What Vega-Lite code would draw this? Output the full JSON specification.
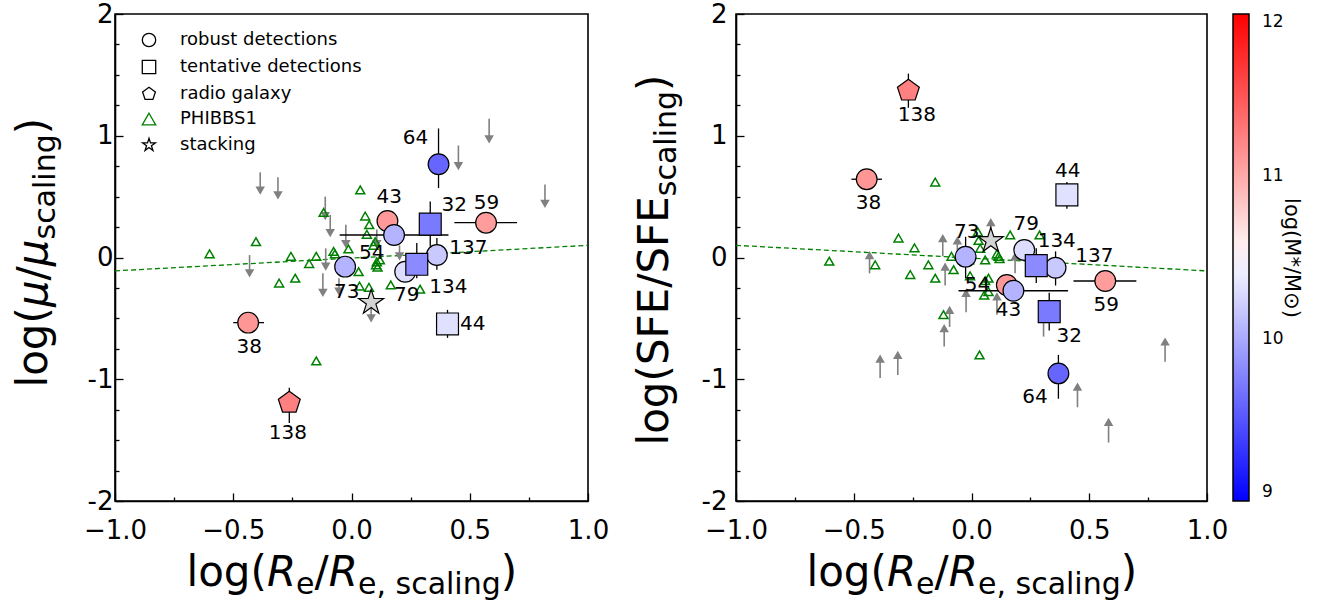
{
  "$schema": "https://vega.github.io/schema/vega-lite/v6.json",
  "background": "white",
  "padding": {"left": 11, "top": 0, "right": 5, "bottom": 2},
  "config": {
    "font": "DejaVu Sans",
    "view": {"stroke": "black", "strokeWidth": 1.6},
    "axis": {"grid": false, "domainColor": "black", "domainWidth": 1.6, "tickColor": "black", "tickWidth": 1.3, "labelColor": "black", "labelFontSize": 26, "labelFont": "DejaVu Sans", "titleFont": "DejaVu Sans", "titleColor": "black", "titleFontSize": 42, "titleFontWeight": "normal", "labelFlush": false, "labelOverlap": false},
    "text": {"font": "DejaVu Sans"}
  },
  "datasets": {
    "fitL": [{"x": -1, "y": -0.11}, {"x": 1, "y": 0.10}],
    "fitR": [{"x": -1, "y": 0.10}, {"x": 1, "y": -0.11}],
    "arrowsL": [
      {"x": -0.386, "y": 0.70, "yh": 0.55}, {"x": -0.311, "y": 0.66, "yh": 0.51}, {"x": 0.582, "y": 1.14, "yh": 0.97},
      {"x": 0.452, "y": 0.92, "yh": 0.75}, {"x": 0.818, "y": 0.60, "yh": 0.44}, {"x": -0.111, "y": 0.50, "yh": 0.34},
      {"x": -0.09, "y": 0.35, "yh": 0.20}, {"x": -0.024, "y": 0.27, "yh": 0.11}, {"x": 0.107, "y": 0.23, "yh": 0.11},
      {"x": -0.431, "y": 0.02, "yh": -0.13}, {"x": -0.109, "y": 0.075, "yh": -0.075}, {"x": -0.121, "y": -0.13, "yh": -0.29},
      {"x": -0.053, "y": -0.17, "yh": -0.28}, {"x": 0.203, "y": 0.10, "yh": 0.01}, {"x": 0.083, "y": -0.37, "yh": -0.50}
    ],
    "arrowsR": [
      {"x": -0.433, "y": -0.13, "yh": 0.02}, {"x": -0.122, "y": 0.01, "yh": 0.16}, {"x": -0.112, "y": -0.23, "yh": -0.075},
      {"x": -0.06, "y": 0.01, "yh": 0.14}, {"x": 0.082, "y": 0.14, "yh": 0.29}, {"x": 0.185, "y": -0.13, "yh": 0.01},
      {"x": -0.023, "y": -0.45, "yh": -0.29}, {"x": -0.093, "y": -0.57, "yh": -0.43}, {"x": -0.116, "y": -0.73, "yh": -0.58},
      {"x": 0.108, "y": -0.47, "yh": -0.32}, {"x": 0.306, "y": -0.65, "yh": -0.49}, {"x": -0.388, "y": -0.99, "yh": -0.83},
      {"x": -0.313, "y": -0.965, "yh": -0.80}, {"x": 0.822, "y": -0.856, "yh": -0.69}, {"x": 0.45, "y": -1.23, "yh": -1.06},
      {"x": 0.582, "y": -1.52, "yh": -1.35}
    ],
    "phibbsL": [
      {"type": "PHIBBS1", "x": 0.037, "y": 0.555}, {"type": "PHIBBS1", "x": 0.058, "y": 0.34}, {"type": "PHIBBS1", "x": 0.075, "y": 0.27},
      {"type": "PHIBBS1", "x": -0.118, "y": 0.37}, {"type": "PHIBBS1", "x": -0.404, "y": 0.13}, {"type": "PHIBBS1", "x": -0.60, "y": 0.03},
      {"type": "PHIBBS1", "x": -0.256, "y": 0.01}, {"type": "PHIBBS1", "x": -0.149, "y": 0.01}, {"type": "PHIBBS1", "x": -0.179, "y": -0.05},
      {"type": "PHIBBS1", "x": -0.076, "y": 0.05}, {"type": "PHIBBS1", "x": -0.07, "y": 0.03}, {"type": "PHIBBS1", "x": -0.013, "y": 0.07},
      {"type": "PHIBBS1", "x": 0.065, "y": 0.19}, {"type": "PHIBBS1", "x": 0.10, "y": 0.13}, {"type": "PHIBBS1", "x": 0.093, "y": 0.10},
      {"type": "PHIBBS1", "x": 0.104, "y": -0.06}, {"type": "PHIBBS1", "x": 0.107, "y": -0.035}, {"type": "PHIBBS1", "x": 0.12, "y": -0.02},
      {"type": "PHIBBS1", "x": 0.03, "y": -0.117}, {"type": "PHIBBS1", "x": -0.306, "y": -0.21}, {"type": "PHIBBS1", "x": -0.238, "y": -0.17},
      {"type": "PHIBBS1", "x": 0.034, "y": -0.235}, {"type": "PHIBBS1", "x": 0.074, "y": -0.245}, {"type": "PHIBBS1", "x": 0.166, "y": -0.225},
      {"type": "PHIBBS1", "x": 0.29, "y": -0.26}, {"type": "PHIBBS1", "x": -0.149, "y": -0.85}, {"type": "PHIBBS1", "x": 0.11, "y": -0.08}
    ],
    "phibbsR": [
      {"type": "PHIBBS1", "x": -0.154, "y": 0.62}, {"type": "PHIBBS1", "x": -0.31, "y": 0.16}, {"type": "PHIBBS1", "x": -0.242, "y": 0.08},
      {"type": "PHIBBS1", "x": -0.604, "y": -0.03}, {"type": "PHIBBS1", "x": -0.409, "y": -0.06}, {"type": "PHIBBS1", "x": -0.26, "y": -0.14},
      {"type": "PHIBBS1", "x": -0.183, "y": -0.06}, {"type": "PHIBBS1", "x": -0.154, "y": -0.17}, {"type": "PHIBBS1", "x": -0.076, "y": -0.10},
      {"type": "PHIBBS1", "x": -0.085, "y": 0.01}, {"type": "PHIBBS1", "x": 0.027, "y": 0.21}, {"type": "PHIBBS1", "x": 0.03, "y": 0.14},
      {"type": "PHIBBS1", "x": 0.164, "y": 0.185}, {"type": "PHIBBS1", "x": 0.289, "y": 0.185}, {"type": "PHIBBS1", "x": 0.058, "y": -0.02},
      {"type": "PHIBBS1", "x": 0.108, "y": 0.03}, {"type": "PHIBBS1", "x": 0.119, "y": -0.01}, {"type": "PHIBBS1", "x": 0.072, "y": -0.17},
      {"type": "PHIBBS1", "x": 0.037, "y": 0.075}, {"type": "PHIBBS1", "x": 0.115, "y": 0.01}, {"type": "PHIBBS1", "x": -0.006, "y": -0.15},
      {"type": "PHIBBS1", "x": 0.058, "y": -0.19}, {"type": "PHIBBS1", "x": 0.054, "y": -0.31}, {"type": "PHIBBS1", "x": 0.072, "y": -0.28},
      {"type": "PHIBBS1", "x": -0.119, "y": -0.47}, {"type": "PHIBBS1", "x": 0.034, "y": -0.80}, {"type": "PHIBBS1", "x": -0.01, "y": -0.02}
    ],
    "namedL": [
      {"name": "64", "type": "robust detections", "x": 0.368, "y": 0.766, "logM": 9.6, "lx": 0.271, "ly": 0.98, "ylo": 0.57, "yhi": 1.06},
      {"name": "43", "type": "robust detections", "x": 0.152, "y": 0.30, "logM": 11.1, "lx": 0.16, "ly": 0.497},
      {"name": "54", "type": "robust detections", "x": 0.18, "y": 0.185, "logM": 10.05, "lx": 0.086, "ly": 0.04, "xlo": -0.05, "xhi": 0.41},
      {"name": "32", "type": "tentative detections", "x": 0.333, "y": 0.274, "logM": 9.72, "lx": 0.434, "ly": 0.43, "ylo": 0.09, "yhi": 0.46},
      {"name": "59", "type": "robust detections", "x": 0.569, "y": 0.286, "logM": 11.08, "lx": 0.571, "ly": 0.445, "xlo": 0.435, "xhi": 0.70},
      {"name": "73", "type": "robust detections", "x": -0.027, "y": -0.075, "logM": 10.05, "lx": -0.02, "ly": -0.281},
      {"name": "79", "type": "robust detections", "x": 0.227, "y": -0.117, "logM": 10.3, "lx": 0.234, "ly": -0.308},
      {"name": "137", "type": "robust detections", "x": 0.361, "y": 0.02, "logM": 10.18, "lx": 0.494, "ly": 0.076, "ylo": -0.1, "yhi": 0.16},
      {"name": "134", "type": "tentative detections", "x": 0.276, "y": -0.056, "logM": 9.82, "lx": 0.41, "ly": -0.245, "ylo": -0.17, "yhi": 0.12},
      {"name": "44", "type": "tentative detections", "x": 0.406, "y": -0.546, "logM": 10.32, "lx": 0.513, "ly": -0.546, "ylo": -0.66, "yhi": -0.43},
      {"name": "38", "type": "robust detections", "x": -0.437, "y": -0.535, "logM": 11.12, "lx": -0.432, "ly": -0.733, "xlo": -0.50, "xhi": -0.37},
      {"name": "138", "type": "radio galaxy", "x": -0.263, "y": -1.193, "logM": 11.25, "lx": -0.269, "ly": -1.44, "ylo": -1.36, "yhi": -1.07}
    ],
    "namedR": [
      {"name": "138", "type": "radio galaxy", "x": -0.268, "y": 1.37, "logM": 11.25, "lx": -0.232, "ly": 1.171, "ylo": 1.23, "yhi": 1.51},
      {"name": "38", "type": "robust detections", "x": -0.445, "y": 0.643, "logM": 11.12, "lx": -0.437, "ly": 0.445, "xlo": -0.51, "xhi": -0.38},
      {"name": "44", "type": "tentative detections", "x": 0.405, "y": 0.514, "logM": 10.32, "lx": 0.409, "ly": 0.713, "ylo": 0.40, "yhi": 0.62},
      {"name": "73", "type": "robust detections", "x": -0.025, "y": 0.007, "logM": 10.05, "lx": -0.02, "ly": 0.207, "ylo": -0.17, "yhi": 0.17},
      {"name": "79", "type": "robust detections", "x": 0.224, "y": 0.062, "logM": 10.3, "lx": 0.232, "ly": 0.275},
      {"name": "137", "type": "robust detections", "x": 0.357, "y": -0.084, "logM": 10.18, "lx": 0.522, "ly": 0.015, "ylo": -0.23, "yhi": 0.05},
      {"name": "134", "type": "tentative detections", "x": 0.275, "y": -0.067, "logM": 9.82, "lx": 0.362, "ly": 0.138, "ylo": -0.21, "yhi": 0.075},
      {"name": "59", "type": "robust detections", "x": 0.568, "y": -0.193, "logM": 11.08, "lx": 0.572, "ly": -0.39, "xlo": 0.433, "xhi": 0.70},
      {"name": "43", "type": "robust detections", "x": 0.15, "y": -0.226, "logM": 11.1, "lx": 0.157, "ly": -0.431},
      {"name": "54", "type": "robust detections", "x": 0.178, "y": -0.273, "logM": 10.05, "lx": 0.025, "ly": -0.226, "xlo": -0.055, "xhi": 0.41},
      {"name": "32", "type": "tentative detections", "x": 0.33, "y": -0.445, "logM": 9.72, "lx": 0.415, "ly": -0.645, "ylo": -0.6, "yhi": -0.29},
      {"name": "64", "type": "robust detections", "x": 0.369, "y": -0.952, "logM": 9.6, "lx": 0.27, "ly": -1.149, "ylo": -1.16, "yhi": -0.8}
    ],
    "stackL": [{"type": "stacking", "x": 0.083, "y": -0.37}],
    "stackR": [{"type": "stacking", "x": 0.082, "y": 0.138}]
  },
  "resolve": {
    "scale": {"shape": "independent", "stroke": "independent", "size": "independent"},
    "legend": {"shape": "independent", "stroke": "independent"}
  },
  "spacing": 22,
  "hconcat": [
    {
      "width": 473,
      "height": 487,
      "resolve": {"axis": {"x": "independent", "y": "independent"}},
      "layer": [
        {
          "data": {"name": "fitL"},
          "mark": {"type": "line", "color": "#008000", "strokeDash": [5, 3], "strokeWidth": 1.3},
          "encoding": {
            "x": {"field": "x", "type": "quantitative", "scale": {"domain": [-1, 1], "nice": false, "zero": false},
              "axis": {"orient": "bottom", "values": [-1, -0.75, -0.5, -0.25, 0, 0.25, 0.5, 0.75, 1],
                "labelExpr": "abs(datum.value*2 - round(datum.value*2)) < 0.001 ? (datum.value < 0 ? '−' : '') + format(abs(datum.value), '.1f') : ''",
                "tickSize": {"condition": {"test": "abs(datum.value*2 - round(datum.value*2)) < 0.001", "value": -8}, "value": -4},
                "labelPadding": 24, "labelFontSize": 26,
                "title": "log(", "titleFontSize": 42, "titleX": 71, "titleY": 84, "titleAlign": "left", "titleBaseline": "alphabetic", "titleAngle": 0}},
            "y": {"field": "y", "type": "quantitative", "scale": {"domain": [-2, 2], "nice": false, "zero": false},
              "axis": {"orient": "left", "values": [-2, -1.75, -1.5, -1.25, -1, -0.75, -0.5, -0.25, 0, 0.25, 0.5, 0.75, 1, 1.25, 1.5, 1.75, 2],
                "labelExpr": "abs(datum.value - round(datum.value)) < 0.001 ? (datum.value < 0 ? '-' : '') + abs(round(datum.value)) : ''",
                "tickSize": {"condition": {"test": "abs(datum.value - round(datum.value)) < 0.001", "value": -8}, "value": -4},
                "labelPadding": 10, "labelFontSize": 26,
                "title": "log(", "titleFontSize": 42, "titleX": -69, "titleY": 373, "titleAlign": "left", "titleBaseline": "alphabetic", "titleAngle": 270}}
          }
        },
        {
          "data": {"name": "arrowsL"},
          "mark": {"type": "rule", "color": "#808080", "strokeWidth": 1.6},
          "encoding": {
            "x": {"field": "x", "type": "quantitative",
              "axis": {"orient": "bottom", "labels": false, "ticks": false, "domain": false, "title": "R", "titleFontSize": 42, "titleFontStyle": "italic", "titleX": 151.4, "titleY": 84, "titleAlign": "left", "titleBaseline": "alphabetic", "titleAngle": 0}},
            "y": {"field": "y", "type": "quantitative",
              "axis": {"orient": "left", "labels": false, "ticks": false, "domain": false, "title": "μ", "titleFontSize": 42, "titleFontStyle": "italic", "titleX": -69, "titleY": 292.6, "titleAlign": "left", "titleBaseline": "alphabetic", "titleAngle": 270}},
            "y2": {"field": "yh"}
          }
        },
        {
          "data": {"name": "arrowsL"},
          "mark": {"type": "point", "shape": "triangle-down", "filled": true, "color": "#808080", "size": 90, "opacity": 1},
          "encoding": {
            "x": {"field": "x", "type": "quantitative",
              "axis": {"orient": "bottom", "labels": false, "ticks": false, "domain": false, "title": "e", "titleFontSize": 30, "titleX": 180.6, "titleY": 92, "titleAlign": "left", "titleBaseline": "alphabetic", "titleAngle": 0}},
            "y": {"field": "yh", "type": "quantitative",
              "axis": {"orient": "left", "labels": false, "ticks": false, "domain": false, "title": "/", "titleFontSize": 42, "titleX": -69, "titleY": 265.9, "titleAlign": "left", "titleBaseline": "alphabetic", "titleAngle": 270}}
          }
        },
        {
          "data": {"name": "phibbsL"},
          "mark": {"type": "point", "filled": false, "size": 80, "strokeWidth": 1.5, "opacity": 1},
          "encoding": {
            "x": {"field": "x", "type": "quantitative",
              "axis": {"orient": "bottom", "labels": false, "ticks": false, "domain": false, "title": "/", "titleFontSize": 42, "titleX": 199.1, "titleY": 84, "titleAlign": "left", "titleBaseline": "alphabetic", "titleAngle": 0}},
            "y": {"field": "y", "type": "quantitative",
              "axis": {"orient": "left", "labels": false, "ticks": false, "domain": false, "title": "μ", "titleFontSize": 42, "titleFontStyle": "italic", "titleX": -69, "titleY": 251.7, "titleAlign": "left", "titleBaseline": "alphabetic", "titleAngle": 270}},
            "shape": {"field": "type", "type": "nominal",
              "scale": {"domain": ["robust detections", "tentative detections", "radio galaxy", "PHIBBS1", "stacking"],
                "range": ["circle", "square", "M0,-1L0.951,-0.309L0.588,0.809L-0.588,0.809L-0.951,-0.309Z", "triangle-up", "M0,-1L0.2245,-0.309L0.951,-0.309L0.363,0.118L0.588,0.809L0,0.382L-0.588,0.809L-0.363,0.118L-0.951,-0.309L-0.2245,-0.309Z"]},
              "legend": {"title": null, "orient": "none", "legendX": 25, "legendY": 17, "padding": 0, "symbolSize": 180, "symbolStrokeWidth": 1.3, "symbolFillColor": "white", "labelFontSize": 18, "labelOffset": 22, "rowPadding": 7, "labelColor": "black", "labelLimit": 0,
                "encode": {"symbols": {"update": {"fill": {"value": "white"}}}}}},
            "stroke": {"field": "type", "type": "nominal",
              "scale": {"domain": ["robust detections", "tentative detections", "radio galaxy", "PHIBBS1", "stacking"], "range": ["black", "black", "black", "#008000", "black"]},
              "legend": {"title": null, "orient": "none", "legendX": 25, "legendY": 17}}
          }
        },
        {
          "data": {"name": "namedL"},
          "transform": [{"filter": "isValid(datum.xlo)"}],
          "mark": {"type": "rule", "color": "black", "strokeWidth": 1.3},
          "encoding": {
            "x": {"field": "xlo", "type": "quantitative",
              "axis": {"orient": "bottom", "labels": false, "ticks": false, "domain": false, "title": "R", "titleFontSize": 42, "titleFontStyle": "italic", "titleX": 213.3, "titleY": 84, "titleAlign": "left", "titleBaseline": "alphabetic", "titleAngle": 0}},
            "x2": {"field": "xhi"},
            "y": {"field": "y", "type": "quantitative",
              "axis": {"orient": "left", "labels": false, "ticks": false, "domain": false, "title": "scaling", "titleFontSize": 30, "titleX": -61, "titleY": 225, "titleAlign": "left", "titleBaseline": "alphabetic", "titleAngle": 270}}
          }
        },
        {
          "data": {"name": "namedL"},
          "transform": [{"filter": "isValid(datum.ylo)"}],
          "mark": {"type": "rule", "color": "black", "strokeWidth": 1.3},
          "encoding": {
            "x": {"field": "x", "type": "quantitative",
              "axis": {"orient": "bottom", "labels": false, "ticks": false, "domain": false, "title": "e, scaling", "titleFontSize": 30, "titleX": 242.5, "titleY": 92, "titleAlign": "left", "titleBaseline": "alphabetic", "titleAngle": 0}},
            "y": {"field": "ylo", "type": "quantitative",
              "axis": {"orient": "left", "labels": false, "ticks": false, "domain": false, "title": ")", "titleFontSize": 42, "titleX": -69, "titleY": 119.7, "titleAlign": "left", "titleBaseline": "alphabetic", "titleAngle": 270}},
            "y2": {"field": "yhi"}
          }
        },
        {
          "data": {"name": "namedL"},
          "mark": {"type": "point", "filled": true, "strokeWidth": 1.2, "opacity": 1},
          "encoding": {
            "x": {"field": "x", "type": "quantitative",
              "axis": {"orient": "bottom", "labels": false, "ticks": false, "domain": false, "title": ")", "titleFontSize": 42, "titleX": 385.3, "titleY": 84, "titleAlign": "left", "titleBaseline": "alphabetic", "titleAngle": 0}},
            "y": {"field": "y", "type": "quantitative", "axis": null},
            "fill": {"field": "logM", "type": "quantitative",
              "scale": {"domain": [9, 10.5, 12], "range": ["#0000ff", "#ffffff", "#ff0000"], "interpolate": "rgb"},
              "legend": {"title": "log(M*/M⊙)", "orient": "right", "direction": "vertical", "format": "d", "gradientLength": 487, "gradientThickness": 16, "values": [9, 10, 11, 12], "titleOrient": "right", "titleAnchor": "middle", "labelFontSize": 17, "titleFontSize": 21, "titleFontWeight": "normal", "titlePadding": -3, "offset": 4, "padding": 0, "gradientStrokeColor": "black", "gradientStrokeWidth": 1.5, "labelColor": "black", "titleColor": "black", "labelOffset": 13}},
            "shape": {"field": "type", "type": "nominal"},
            "stroke": {"field": "type", "type": "nominal"},
            "size": {"field": "type", "type": "nominal",
              "scale": {"domain": ["robust detections", "tentative detections", "radio galaxy"], "range": [430, 530, 750]}, "legend": null}
          }
        },
        {
          "data": {"name": "stackL"},
          "mark": {"type": "point", "filled": true, "fill": "#d3d3d3", "size": 690, "strokeWidth": 1.2, "opacity": 1},
          "encoding": {
            "x": {"field": "x", "type": "quantitative", "axis": null},
            "y": {"field": "y", "type": "quantitative", "axis": null},
            "shape": {"field": "type", "type": "nominal"},
            "stroke": {"field": "type", "type": "nominal"}
          }
        },
        {
          "data": {"name": "namedL"},
          "mark": {"type": "text", "fontSize": 20, "color": "black", "align": "center", "baseline": "middle"},
          "encoding": {
            "x": {"field": "lx", "type": "quantitative", "axis": null},
            "y": {"field": "ly", "type": "quantitative", "axis": null},
            "text": {"field": "name"}
          }
        }
      ]
    },
    {
      "width": 471,
      "height": 487,
      "resolve": {"axis": {"x": "independent", "y": "independent"}},
      "layer": [
        {
          "data": {"name": "fitR"},
          "mark": {"type": "line", "color": "#008000", "strokeDash": [5, 3], "strokeWidth": 1.3},
          "encoding": {
            "x": {"field": "x", "type": "quantitative", "scale": {"domain": [-1, 1], "nice": false, "zero": false},
              "axis": {"orient": "bottom", "values": [-1, -0.75, -0.5, -0.25, 0, 0.25, 0.5, 0.75, 1],
                "labelExpr": "abs(datum.value*2 - round(datum.value*2)) < 0.001 ? (datum.value < 0 ? '−' : '') + format(abs(datum.value), '.1f') : ''",
                "tickSize": {"condition": {"test": "abs(datum.value*2 - round(datum.value*2)) < 0.001", "value": -8}, "value": -4},
                "labelPadding": 24, "labelFontSize": 26,
                "title": "log(", "titleFontSize": 42, "titleX": 70, "titleY": 84, "titleAlign": "left", "titleBaseline": "alphabetic", "titleAngle": 0}},
            "y": {"field": "y", "type": "quantitative", "scale": {"domain": [-2, 2], "nice": false, "zero": false},
              "axis": {"orient": "left", "values": [-2, -1.75, -1.5, -1.25, -1, -0.75, -0.5, -0.25, 0, 0.25, 0.5, 0.75, 1, 1.25, 1.5, 1.75, 2],
                "labelExpr": "abs(datum.value - round(datum.value)) < 0.001 ? (datum.value < 0 ? '-' : '') + abs(round(datum.value)) : ''",
                "tickSize": {"condition": {"test": "abs(datum.value - round(datum.value)) < 0.001", "value": -8}, "value": -4},
                "labelPadding": 17, "labelFontSize": 26,
                "title": "log(SFE/SFE", "titleFontSize": 42, "titleX": -69, "titleY": 431, "titleAlign": "left", "titleBaseline": "alphabetic", "titleAngle": 270}}
          }
        },
        {
          "data": {"name": "arrowsR"},
          "mark": {"type": "rule", "color": "#808080", "strokeWidth": 1.6},
          "encoding": {
            "x": {"field": "x", "type": "quantitative",
              "axis": {"orient": "bottom", "labels": false, "ticks": false, "domain": false, "title": "R", "titleFontSize": 42, "titleFontStyle": "italic", "titleX": 150.4, "titleY": 84, "titleAlign": "left", "titleBaseline": "alphabetic", "titleAngle": 0}},
            "y": {"field": "y", "type": "quantitative",
              "axis": {"orient": "left", "labels": false, "ticks": false, "domain": false, "title": "scaling", "titleFontSize": 30, "titleX": -61, "titleY": 181.7, "titleAlign": "left", "titleBaseline": "alphabetic", "titleAngle": 270}},
            "y2": {"field": "yh"}
          }
        },
        {
          "data": {"name": "arrowsR"},
          "mark": {"type": "point", "shape": "triangle-up", "filled": true, "color": "#808080", "size": 90, "opacity": 1},
          "encoding": {
            "x": {"field": "x", "type": "quantitative",
              "axis": {"orient": "bottom", "labels": false, "ticks": false, "domain": false, "title": "e", "titleFontSize": 30, "titleX": 179.6, "titleY": 92, "titleAlign": "left", "titleBaseline": "alphabetic", "titleAngle": 0}},
            "y": {"field": "yh", "type": "quantitative",
              "axis": {"orient": "left", "labels": false, "ticks": false, "domain": false, "title": ")", "titleFontSize": 42, "titleX": -69, "titleY": 76.4, "titleAlign": "left", "titleBaseline": "alphabetic", "titleAngle": 270}}
          }
        },
        {
          "data": {"name": "phibbsR"},
          "mark": {"type": "point", "filled": false, "size": 80, "strokeWidth": 1.5, "opacity": 1},
          "encoding": {
            "x": {"field": "x", "type": "quantitative",
              "axis": {"orient": "bottom", "labels": false, "ticks": false, "domain": false, "title": "/", "titleFontSize": 42, "titleX": 198.1, "titleY": 84, "titleAlign": "left", "titleBaseline": "alphabetic", "titleAngle": 0}},
            "y": {"field": "y", "type": "quantitative", "axis": null},
            "shape": {"field": "type", "type": "nominal",
              "scale": {"domain": ["robust detections", "tentative detections", "radio galaxy", "PHIBBS1", "stacking"],
                "range": ["circle", "square", "M0,-1L0.951,-0.309L0.588,0.809L-0.588,0.809L-0.951,-0.309Z", "triangle-up", "M0,-1L0.2245,-0.309L0.951,-0.309L0.363,0.118L0.588,0.809L0,0.382L-0.588,0.809L-0.363,0.118L-0.951,-0.309L-0.2245,-0.309Z"]},
              "legend": null},
            "stroke": {"field": "type", "type": "nominal",
              "scale": {"domain": ["robust detections", "tentative detections", "radio galaxy", "PHIBBS1", "stacking"], "range": ["black", "black", "black", "#008000", "black"]},
              "legend": null}
          }
        },
        {
          "data": {"name": "namedR"},
          "transform": [{"filter": "isValid(datum.xlo)"}],
          "mark": {"type": "rule", "color": "black", "strokeWidth": 1.3},
          "encoding": {
            "x": {"field": "xlo", "type": "quantitative",
              "axis": {"orient": "bottom", "labels": false, "ticks": false, "domain": false, "title": "R", "titleFontSize": 42, "titleFontStyle": "italic", "titleX": 212.3, "titleY": 84, "titleAlign": "left", "titleBaseline": "alphabetic", "titleAngle": 0}},
            "x2": {"field": "xhi"},
            "y": {"field": "y", "type": "quantitative", "axis": null}
          }
        },
        {
          "data": {"name": "namedR"},
          "transform": [{"filter": "isValid(datum.ylo)"}],
          "mark": {"type": "rule", "color": "black", "strokeWidth": 1.3},
          "encoding": {
            "x": {"field": "x", "type": "quantitative",
              "axis": {"orient": "bottom", "labels": false, "ticks": false, "domain": false, "title": "e, scaling", "titleFontSize": 30, "titleX": 241.5, "titleY": 92, "titleAlign": "left", "titleBaseline": "alphabetic", "titleAngle": 0}},
            "y": {"field": "ylo", "type": "quantitative", "axis": null},
            "y2": {"field": "yhi"}
          }
        },
        {
          "data": {"name": "namedR"},
          "mark": {"type": "point", "filled": true, "strokeWidth": 1.2, "opacity": 1},
          "encoding": {
            "x": {"field": "x", "type": "quantitative",
              "axis": {"orient": "bottom", "labels": false, "ticks": false, "domain": false, "title": ")", "titleFontSize": 42, "titleX": 384.3, "titleY": 84, "titleAlign": "left", "titleBaseline": "alphabetic", "titleAngle": 0}},
            "y": {"field": "y", "type": "quantitative", "axis": null},
            "fill": {"field": "logM", "type": "quantitative",
              "scale": {"domain": [9, 10.5, 12], "range": ["#0000ff", "#ffffff", "#ff0000"], "interpolate": "rgb"},
              "legend": {"title": "log(M*/M⊙)", "orient": "right", "direction": "vertical", "format": "d", "gradientLength": 487, "gradientThickness": 16, "values": [9, 10, 11, 12], "titleOrient": "right", "titleAnchor": "middle", "labelFontSize": 17, "titleFontSize": 21, "titleFontWeight": "normal", "titlePadding": -3, "offset": 4, "padding": 0, "gradientStrokeColor": "black", "gradientStrokeWidth": 1.5, "labelColor": "black", "titleColor": "black", "labelOffset": 13}},
            "shape": {"field": "type", "type": "nominal", "legend": null},
            "stroke": {"field": "type", "type": "nominal", "legend": null},
            "size": {"field": "type", "type": "nominal",
              "scale": {"domain": ["robust detections", "tentative detections", "radio galaxy"], "range": [430, 530, 750]}, "legend": null}
          }
        },
        {
          "data": {"name": "stackR"},
          "mark": {"type": "point", "filled": true, "fill": "#d3d3d3", "size": 690, "strokeWidth": 1.2, "opacity": 1},
          "encoding": {
            "x": {"field": "x", "type": "quantitative", "axis": null},
            "y": {"field": "y", "type": "quantitative", "axis": null},
            "shape": {"field": "type", "type": "nominal", "legend": null},
            "stroke": {"field": "type", "type": "nominal", "legend": null}
          }
        },
        {
          "data": {"name": "namedR"},
          "mark": {"type": "text", "fontSize": 20, "color": "black", "align": "center", "baseline": "middle"},
          "encoding": {
            "x": {"field": "lx", "type": "quantitative", "axis": null},
            "y": {"field": "ly", "type": "quantitative", "axis": null},
            "text": {"field": "name"}
          }
        }
      ]
    }
  ]
}
